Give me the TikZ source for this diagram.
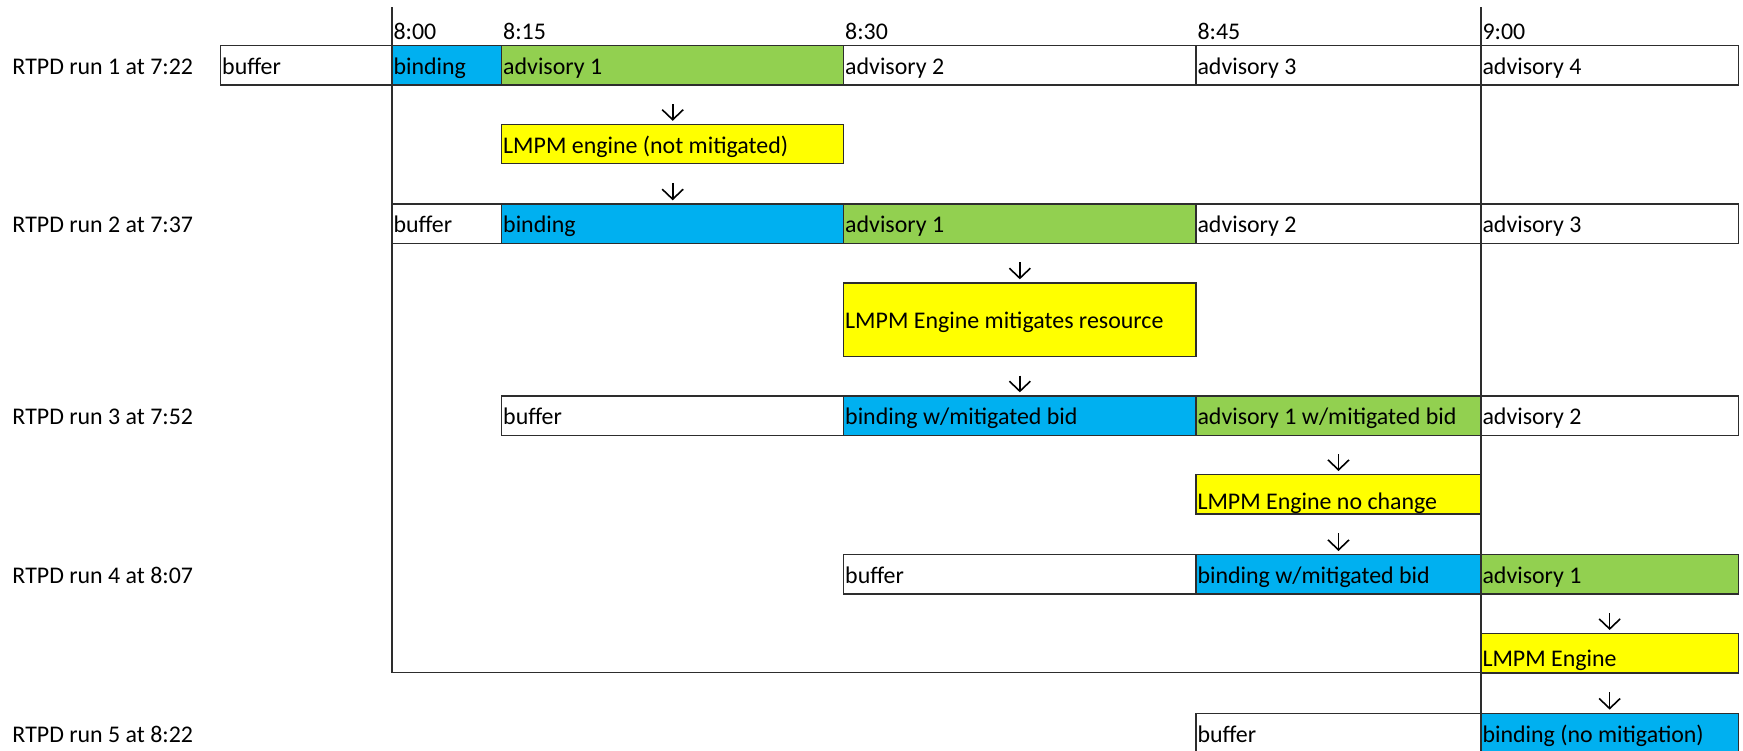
\documentclass[tikz,border=0pt]{standalone}
\usepackage{fontspec}
\setmainfont{Carlito}
\usetikzlibrary{arrows.meta}
\definecolor{cblue}{RGB}{0,176,240}
\definecolor{cgreen}{RGB}{146,208,80}
\definecolor{cyellow}{RGB}{255,255,0}
\definecolor{cline}{RGB}{45,45,45}
\newcommand\cellbox[8]{%
  \node[cellst, fill=#6, minimum width={(#4-#2)*1pt}, minimum height={(#5-#3)*1pt}] (#1) at ({(#2+#4)/2},{(#3+#5)/2}) {};
  \node[txt, anchor=base west] (#1t) at ([xshift=1.5pt,yshift=#8pt]#1.south west) {#7};
}
\begin{document}
\begin{tikzpicture}[x=1pt,y=-1pt,
  cellst/.style={draw=cline, line width=1.3pt, inner sep=0pt, outer sep=0pt},
  txt/.style={inner sep=0pt, outer sep=0pt, font=\fontsize{23.9}{28}\selectfont},
  frameline/.style={draw=cline, line width=1.4pt},
  darr/.style={draw=black, line width=1.6pt, -{Straight Barb[length=10pt,width=21pt]}}
]
\useasboundingbox (0,0) rectangle (1743,750);
\fill[white] (0,0) rectangle (1743,750);
\clip (0,0) rectangle (1743,750);

% time labels
\node[txt, anchor=base west] (t800) at (393.5,39.3) {8:00};
\node[txt, anchor=base west] (t815) at (503.2,39.3) {8:15};
\node[txt, anchor=base west] (t830) at (845.2,39.3) {8:30};
\node[txt, anchor=base west] (t845) at (1197.5,39.3) {8:45};
\node[txt, anchor=base west] (t900) at (1482.5,39.3) {9:00};

% row labels
\node[txt, anchor=base west] (l1) at (12.5,74.5) {RTPD run 1 at 7:22};
\node[txt, anchor=base west] (l2) at (12.5,232.8) {RTPD run 2 at 7:37};
\node[txt, anchor=base west] (l3) at (12.5,424.8) {RTPD run 3 at 7:52};
\node[txt, anchor=base west] (l4) at (12.5,583.5) {RTPD run 4 at 8:07};
\node[txt, anchor=base west] (l5) at (12.5,742.1) {RTPD run 5 at 8:22};

% row 1
\cellbox{r1a}{220.7}{45.7}{392}{85}{white}{buffer}{10.5}
\cellbox{r1b}{392}{45.7}{501.7}{85}{cblue}{binding}{10.5}
\cellbox{r1c}{501.7}{45.7}{843.7}{85}{cgreen}{advisory 1}{10.5}
\cellbox{r1d}{843.7}{45.7}{1196}{85}{white}{advisory 2}{10.5}
\cellbox{r1e}{1196}{45.7}{1481}{85}{white}{advisory 3}{10.5}
\cellbox{r1f}{1481}{45.7}{1738.3}{85}{white}{advisory 4}{10.5}

\cellbox{y1}{501.7}{124.5}{843.7}{163.8}{cyellow}{LMPM engine (not mitigated)}{10.5}

% row 2
\cellbox{r2a}{392}{204}{501.7}{243.3}{white}{buffer}{10.5}
\cellbox{r2b}{501.7}{204}{843.7}{243.3}{cblue}{binding}{10.5}
\cellbox{r2c}{843.7}{204}{1196}{243.3}{cgreen}{advisory 1}{10.5}
\cellbox{r2d}{1196}{204}{1481}{243.3}{white}{advisory 2}{10.5}
\cellbox{r2e}{1481}{204}{1738.3}{243.3}{white}{advisory 3}{10.5}

\cellbox{y2}{843.7}{283}{1196}{356.7}{cyellow}{LMPM Engine mitigates resource}{28.2}

% row 3
\cellbox{r3a}{501.7}{396}{843.7}{435.3}{white}{buffer}{10.5}
\cellbox{r3b}{843.7}{396}{1196}{435.3}{cblue}{binding w/mitigated bid}{10.5}
\cellbox{r3c}{1196}{396}{1481}{435.3}{cgreen}{advisory 1 w/mitigated bid}{10.5}
\cellbox{r3d}{1481}{396}{1738.3}{435.3}{white}{advisory 2}{10.5}

\cellbox{y3}{1196}{474.7}{1481}{514}{cyellow}{LMPM Engine no change}{4.5}

% row 4
\cellbox{r4a}{843.7}{554.7}{1196}{594}{white}{buffer}{10.5}
\cellbox{r4b}{1196}{554.7}{1481}{594}{cblue}{binding w/mitigated bid}{10.5}
\cellbox{r4c}{1481}{554.7}{1738.3}{594}{cgreen}{advisory 1}{10.5}

\cellbox{y4}{1481}{633.7}{1738.3}{673}{cyellow}{LMPM Engine}{7}

% row 5
\cellbox{r5a}{1196}{713.3}{1481}{752.6}{white}{buffer}{10.5}
\cellbox{r5b}{1481}{713.3}{1738.3}{752.6}{cblue}{binding (no mitigation)}{10.5}

% frame lines
\draw[frameline] (392,7) -- (392,672.7) -- (1481,672.7);
\draw[frameline] (1481,7) -- (1481,750);

% arrows
\draw[darr] ([yshift=-19pt]r1c.south) -- ([yshift=3.7pt]y1.north);
\draw[darr] ([yshift=-19pt]y1.south) -- ([yshift=3.7pt]r2b.north);
\draw[darr] ([yshift=-19pt]r2c.south) -- ([yshift=3.7pt]y2.north);
\draw[darr] ([yshift=-19pt]y2.south) -- ([yshift=3.7pt]r3b.north);
\draw[darr] ([yshift=-19pt]r3c.south) -- ([yshift=3.7pt]y3.north);
\draw[darr] ([yshift=-19pt]y3.south) -- ([yshift=3.7pt]r4b.north);
\draw[darr] ([yshift=-19pt]r4c.south) -- ([yshift=3.7pt]y4.north);
\draw[darr] ([yshift=-19pt]y4.south) -- ([yshift=3.7pt]r5b.north);
\end{tikzpicture}
\end{document}
